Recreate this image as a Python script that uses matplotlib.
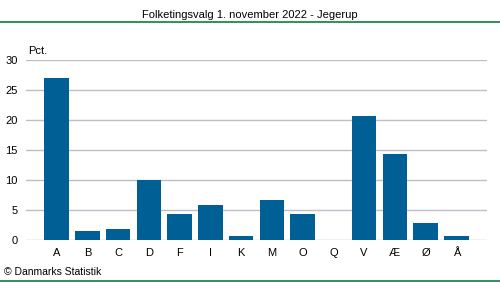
import matplotlib.pyplot as plt
from matplotlib.lines import Line2D

plt.rcParams["font.family"] = ["Liberation Sans", "DejaVu Sans"]

# partier og stemmeandele (pct.)
parties = ["A", "B", "C", "D", "F", "I", "K", "M", "O", "Q", "V", "Æ", "Ø", "Å"]
pct = [27.0, 1.5, 1.8, 10.0, 4.3, 5.8, 0.7, 6.7, 4.3, 0.0, 20.7, 14.3, 2.8, 0.7]
yticks = [0, 5, 10, 15, 20, 25, 30]

bar_color = "#006095"
grid_color = "#BEBEC8"
green = "#00843D"

fig = plt.figure(figsize=(5, 2.82), dpi=100)
ax = fig.add_axes([26 / 500, 1 - 240 / 282, 461 / 500, 180 / 282])

x = list(range(len(parties)))
ax.bar(x, pct, width=0.8, color=bar_color, zorder=3)

ax.set_xlim(-1, len(parties))
ax.set_ylim(0, 30)
ax.set_yticks(yticks)
ax.set_xticks(x)
ax.set_xticklabels(parties)
ax.yaxis.grid(True, color=grid_color, linewidth=1)
ax.set_axisbelow(True)
for s in ["left", "right", "top", "bottom"]:
    ax.spines[s].set_visible(False)
ax.tick_params(length=0, labelsize=8, colors="#000000")
ax.tick_params(axis="y", pad=6)
ax.tick_params(axis="x", pad=6)

fig.text(0.5, 1 - 15 / 282, "Folketingsvalg 1. november 2022 - Jegerup",
         ha="center", va="center", fontsize=8)
fig.text(28 / 500, 1 - 51 / 282, "Pct.", ha="left", va="center", fontsize=8)
fig.text(4 / 500, 1 - 272 / 282, "© Danmarks Statistik", ha="left", va="center", fontsize=7.5)

fig.add_artist(Line2D([0, 1], [1 - 22 / 282] * 2, color=green, linewidth=1.2))
fig.add_artist(Line2D([0, 1], [1 - 281 / 282] * 2, color=green, linewidth=1.2))

fig.savefig("out.png", dpi=100)
